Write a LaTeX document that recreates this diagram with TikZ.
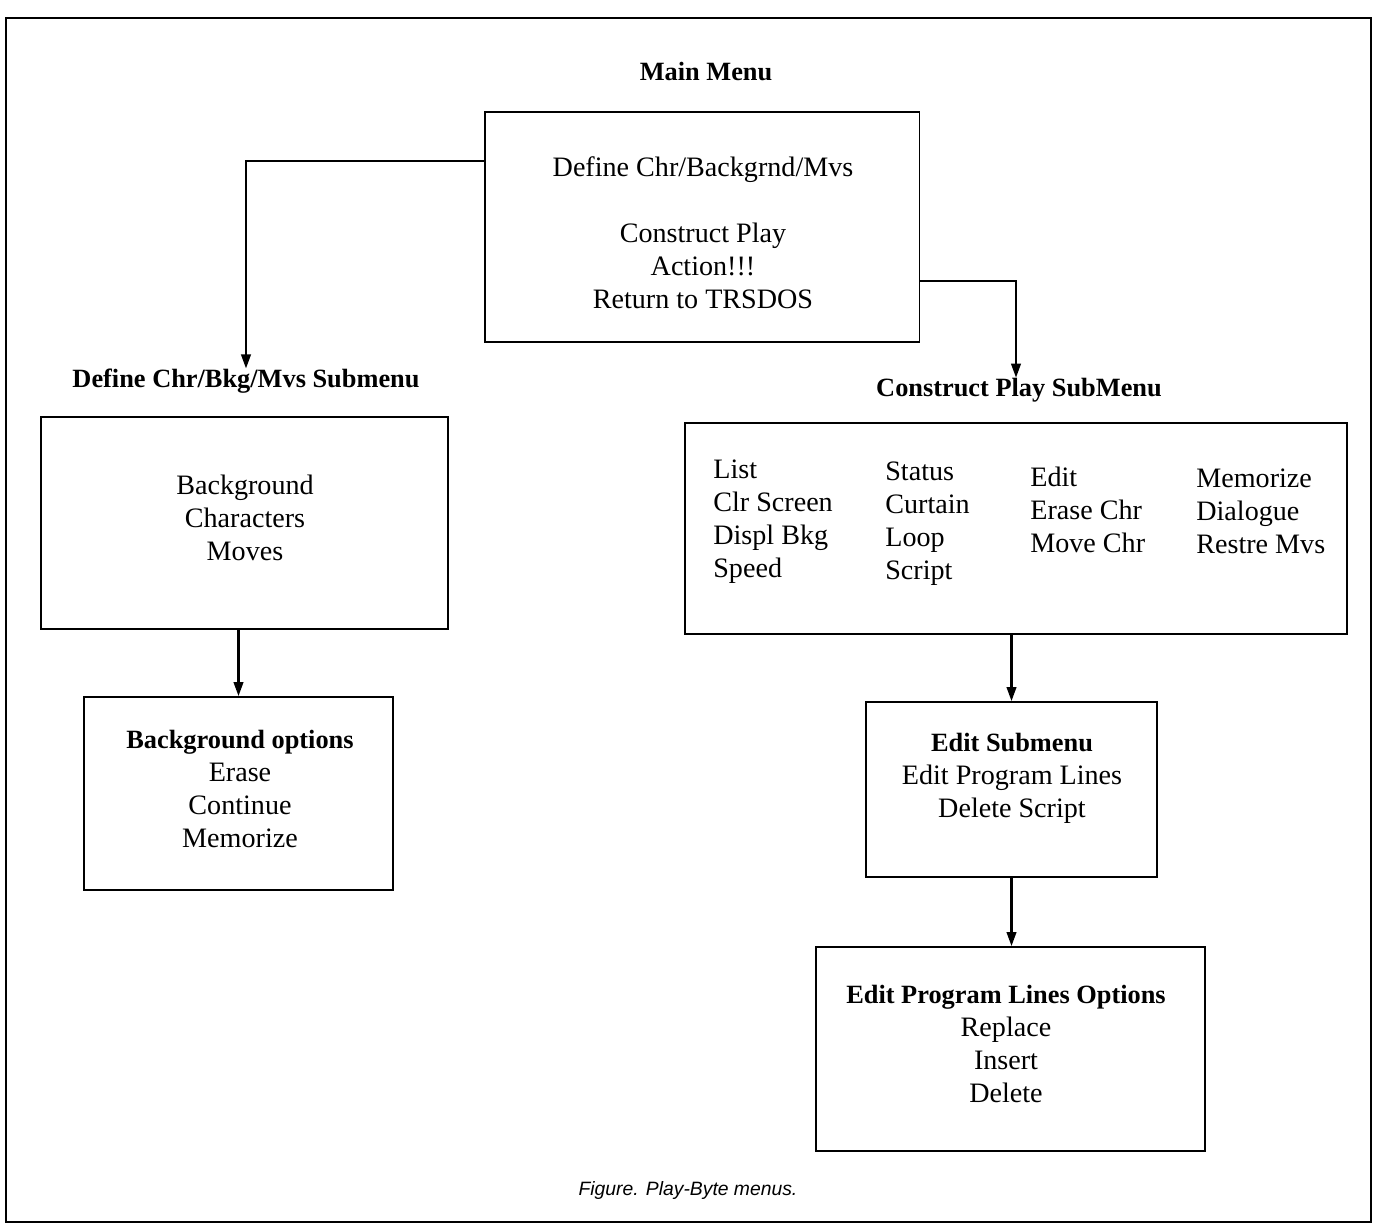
\documentclass[tikz,border=0pt]{standalone}
\usepackage{fontspec}
\setmainfont{Liberation Serif}
\newfontfamily\capfont{Liberation Sans}
\usetikzlibrary{arrows.meta}
\newcommand{\hd}[1]{{\fontsize{15}{18.8}\selectfont\bfseries #1}}
\tikzset{
  box/.style={draw, line width=1.1pt, inner sep=0pt},
  body/.style={font=\fontsize{16}{18.8}\selectfont, align=center, inner sep=0pt},
  bodyl/.style={font=\fontsize{16}{18.8}\selectfont, align=left, anchor=west, inner sep=0pt},
  ttl/.style={font=\fontsize{15}{18.8}\selectfont\bfseries, inner sep=0pt},
  arr/.style={line width=1.2pt, -{Triangle[length=8pt,width=5.5pt]}},
  conn/.style={line width=1.2pt}
}
\begin{document}
\begin{tikzpicture}[x=0.02cm,y=-0.02cm]
\useasboundingbox (0,0) rectangle (1373,1227);
% outer frame
\draw[line width=1.6pt] (6,18) rectangle (1371,1222);

% main menu
\node[ttl] (mtitle) at (706,72) {Main Menu};
\node[box, minimum width=8.7cm, minimum height=4.6cm] (main) at (702,227) {};
\node[body] (maintext) at (703,233) {Define Chr/Backgrnd/Mvs\\[18.8pt]Construct Play\\Action!!!\\Return to TRSDOS};

% left branch
\node[ttl] (ltitle) at (246,381) {Define Chr/Bkg/Mvs Submenu};
\node[box, minimum width=8.14cm, minimum height=4.24cm] (lbox) at (244.5,523) {};
\node[body] (ltext) at (245,518) {Background\\Characters\\Moves};
\node[box, minimum width=6.18cm, minimum height=3.86cm] (bgbox) at (238.5,793.5) {};
\node[body] (bgtext) at (240,789) {\hd{Background options}\\Erase\\Continue\\Memorize};

% right branch
\node[ttl] (rtitle) at (1019,390) {Construct Play SubMenu};
\node[box, minimum width=13.24cm, minimum height=4.22cm] (rbox) at (1016,528.5) {};
\node[bodyl] (c1) at (713,522) {List\\Clr Screen\\Displ Bkg\\Speed};
\node[bodyl] (c2) at (885,524) {Status\\Curtain\\Loop\\Script};
\node[bodyl] (c3) at (1030,509.5) {Edit\\Erase Chr\\Move Chr};
\node[bodyl] (c4) at (1196,511.5) {Memorize\\Dialogue\\Restre Mvs};

\node[box, minimum width=5.82cm, minimum height=3.5cm] (ebox) at (1011.5,789.5) {};
\node[body] (etext) at (1012,778) {\hd{Edit Submenu}\\Edit Program Lines\\Delete Script};
\node[box, minimum width=7.78cm, minimum height=4.08cm] (obox) at (1010.5,1049) {};
\node[body] (otext) at (1006,1044) {\hd{Edit Program Lines Options}\\Replace\\Insert\\Delete};

% caption
\node[font=\capfont\itshape\fontsize{11}{13}\selectfont, inner sep=0pt] (cap) at (688,1190) {Figure. Play-Byte menus.};

% connectors
\coordinate (lA) at (246,161);
\coordinate (rA) at (1016,281);
\draw[arr] (lA -| main.west) -- (lA) -- (lA |- ltitle.north);
\draw[arr] (rA -| main.east) -- (rA) -- (rA |- rtitle.north);
\draw[arr] (bgbox.north |- lbox.south) -- (bgbox.north);
\draw[arr] (ebox.north |- rbox.south) -- (ebox.north);
\draw[arr] (ebox.south) -- (ebox.south |- obox.north);
\end{tikzpicture}
\end{document}
